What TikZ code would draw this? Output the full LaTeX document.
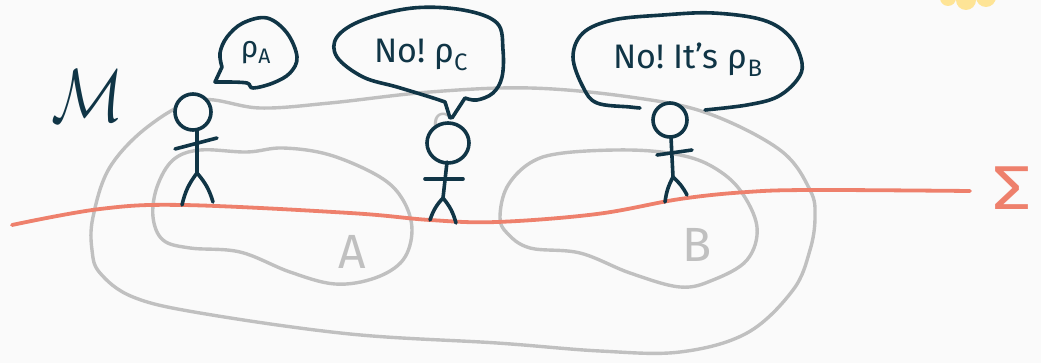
\documentclass[tikz,border=0pt]{standalone}
\usepackage{fontspec}
\setmainfont{Fira Sans}
\usepackage{tikz}

\definecolor{ink}{RGB}{16,53,70}
\definecolor{regiongray}{RGB}{192,192,192}
\definecolor{slicered}{RGB}{238,128,108}
\definecolor{paper}{RGB}{250,250,250}
\definecolor{sun}{RGB}{254,228,150}

\tikzset{
  pen/.style={ink, line width=3.6pt, line cap=round, line join=round},
  region/.style={regiongray, line width=3.4pt, line cap=round, line join=round},
  slice/.style={slicered, line width=3.8pt, line cap=round},
  talk/.style={ink, font=\fontsize{34}{34}\selectfont, inner sep=0pt},
}

\begin{document}
\begin{tikzpicture}[x=1pt,y=-1pt]
 \fill[paper] (0,0) rectangle (1041,363);
 \useasboundingbox (0,0) rectangle (1041,363);

 % a bit of sun peeking in at the top
 \fill[sun] (948,-2) circle [radius=8] (966,0) circle [radius=10] (986,-3) circle [radius=10];

 % spacetime M and the two regions A, B
 \draw[region] plot[smooth cycle, tension=0.6] coordinates {(200,100) (260,108) (330,103) (430,92) (530,88) (630,97) (707,113) (780,150) (810,190) (815,217) (810,250) (793,290) (747,333) (680,352) (600,351) (497,343) (350,334) (200,313) (133,297) (100,273) (92,250) (93,217) (110,167) (150,125)};
 \draw[region] plot[smooth cycle, tension=0.6] coordinates {(173,160) (200,150) (247,152) (283,148) (330,155) (380,177) (403,200) (412,230) (403,260) (375,278) (335,284) (290,272) (240,252) (190,248) (163,240) (153,217) (157,187)};
 \draw[region] plot[smooth cycle, tension=0.6] coordinates {(500,217) (507,187) (530,163) (563,153) (630,150) (680,155) (713,167) (740,190) (757,227) (747,260) (713,280) (680,287) (630,273) (580,253) (530,248) (507,233)};
 \node[regiongray, font=\fontsize{48}{48}\selectfont] (labelA) at (352,252) {A};
 \node[regiongray, font=\fontsize{48}{48}\selectfont] (labelB) at (697,245) {B};
 \node[regiongray, font=\fontsize{32}{32}\selectfont] (labelC) at (441,124) {C};

 % the Cauchy slice
 \draw[slice] plot[smooth, tension=0.6] coordinates {(12,225) (100,209) (183,205) (350,213) (430,220) (497,222) (597,214) (680,199) (747,192) (813,190) (970,191)};
 \node[slicered, font=\fontsize{62}{62}\selectfont, xscale=1.25] (sigma) at (1012,188) {Σ};

 \node[ink, xscale=6, yscale=7.5] (manifold) at (88,96) {$\mathcal{M}$};

 % observer in A
 \draw[pen, fill=paper] (193,112) circle [radius=18];
 \draw[pen] (197,131) -- (197,173);
 \draw[pen] (175,149) -- (217,138);
 \draw[pen] (182,205) to[bend left=12] (197,173) to[bend left=12] (213,202);

 % observer in the middle
 \draw[pen, fill=paper] (448,143) ellipse [x radius=21, y radius=20];
 \draw[pen] (447,162) -- (443,198);
 \draw[pen] (425,179) -- (463,179);
 \draw[pen] (430,220) to[bend left=12] (443,198) to[bend left=12] (456,223);

 % observer in B
 \draw[pen, fill=paper] (670,120) circle [radius=17];
 \draw[pen] (671,137) -- (673,177);
 \draw[pen] (657,155) -- (692,150);
 \draw[pen] (665,202) to[bend left=10] (673,177) to[bend left=10] (687,195);

 % speech bubbles
 \draw[pen] (215,82) -- plot[smooth, tension=0.6] coordinates {(222,67) (220,53) (227,37) (243,23) (267,18) (287,33) (297,57) (290,73) (273,83) (253,88) (247,83) (227,82)} -- cycle;
 \node[talk, font=\fontsize{30}{30}\selectfont] (sayA) at (256,53) {ρ\textsubscript{A}};

 \draw[pen] (450,118) -- plot[smooth, tension=0.6] coordinates {(445,102) (430,97) (397,87) (363,77) (337,57) (337,37) (363,20) (413,8) (463,10) (497,23) (503,50) (502,77) (493,93) (477,100) (465,98)} -- (452,118);
 \node[talk] (sayC) at (421,55) {No!\ ρ\textsubscript{C}};

 \draw[pen] plot[smooth, tension=0.6] coordinates {(640,108) (630,107) (597,103) (583,87) (573,57) (583,33) (613,20) (663,15) (713,13) (763,20) (790,37) (802,63) (797,80) (777,97) (747,105) (705,110)};
 \node[talk] (sayB) at (688,60) {No!\ It's ρ\textsubscript{B}};
\end{tikzpicture}
\end{document}
